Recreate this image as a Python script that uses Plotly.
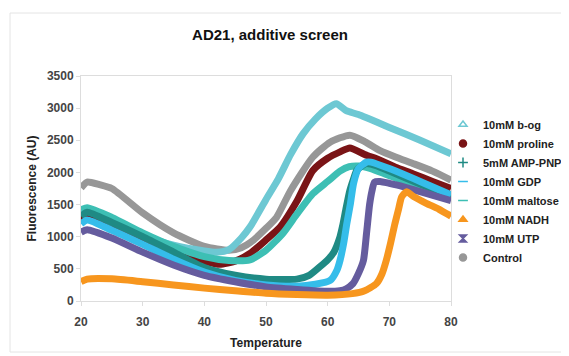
import plotly.graph_objects as go

names = ["10mM b-og", "10mM proline", "5mM AMP-PNP", "10mM GDP",
         "10mM maltose", "10mM NADH", "10mM UTP", "Control"]
colors = ["#6DC8D3", "#7A1416", "#1F8A84", "#35BDEA",
          "#3DBFB4", "#F7961E", "#655C9E", "#979797"]
symbols = ["triangle-up-open", "circle", "cross-thin", "line-ew",
           "line-ew", "triangle-up", "hourglass", "circle"]

bog_t = [20, 21, 25, 30, 35, 40, 42, 44, 46, 47.4, 50, 52, 54, 56, 58, 60, 61.4, 63, 65, 70, 75, 80]
bog_v = [1350, 1400, 1250, 1020, 870, 780, 760, 800, 980, 1150, 1580, 1900, 2280, 2600, 2830, 3000, 3070, 2960, 2900, 2700, 2500, 2290]

pro_t = [20, 21, 25, 30, 35, 40, 42.5, 45, 47.4, 50, 52.3, 55, 57.6, 60, 62, 63.6, 66, 68.5, 71, 73.8, 77, 80]
pro_v = [1250, 1330, 1150, 950, 760, 620, 570, 620, 740, 950, 1150, 1550, 2030, 2220, 2320, 2380, 2280, 2190, 2080, 1980, 1860, 1750]

amp_t = [20, 21, 25, 30, 35, 40, 45, 50, 55, 57, 58.7, 60, 61, 62, 62.5, 63, 63.6, 64.2, 64.7, 65.5, 66.3, 68, 70, 75, 80]
amp_v = [1320, 1380, 1220, 1000, 760, 520, 400, 340, 340, 400, 530, 640, 760, 1000, 1200, 1450, 1720, 1900, 2030, 2100, 2140, 2100, 2020, 1820, 1620]

gdp_t = [20, 21, 25, 30, 35, 40, 45, 50, 55, 58, 60.4, 61.5, 62, 62.6, 63.1, 63.7, 64.2, 65, 66.3, 67, 70, 75, 80]
gdp_v = [1200, 1260, 1100, 880, 650, 450, 320, 250, 230, 260, 320, 480, 630, 900, 1200, 1520, 1830, 2060, 2160, 2160, 2060, 1860, 1650]

mal_t = [20, 21, 25, 30, 35, 40, 44, 47.4, 50, 52.8, 55, 57.6, 60, 62, 63.5, 65, 67, 70, 75, 80]
mal_v = [1420, 1450, 1300, 1060, 850, 690, 630, 640, 790, 1060, 1350, 1670, 1860, 2020, 2090, 2100, 2060, 1950, 1780, 1590]

nadh_t = [20, 21, 25, 30, 35, 40, 45, 50, 55, 60, 64, 66, 67.9, 68.8, 69.5, 70.2, 70.9, 71.5, 72, 72.8, 74, 76, 78, 80]
nadh_v = [300, 340, 345, 300, 250, 200, 160, 120, 100, 90, 115, 160, 270, 420, 630, 900, 1200, 1430, 1620, 1700, 1620, 1520, 1430, 1320]

utp_t = [20, 21, 25, 30, 35, 40, 45, 50, 55, 60, 62, 63, 64.1, 65, 65.8, 66.3, 66.8, 67.2, 67.6, 68.5, 70, 72.2, 75, 80]
utp_v = [1070, 1110, 980, 760, 560, 400, 300, 220, 180, 150, 160, 190, 270, 430, 630, 1050, 1500, 1720, 1850, 1860, 1830, 1780, 1700, 1560]

ctl_t = [20, 21, 23, 25, 30, 35, 40, 44, 46, 48, 50, 51.7, 54, 57.6, 60.4, 63.6, 66, 68.5, 71, 73.8, 77, 80]
ctl_v = [1760, 1850, 1810, 1750, 1370, 1060, 850, 790, 830, 950, 1130, 1300, 1720, 2240, 2470, 2580, 2480, 2340, 2240, 2140, 2020, 1880]

series_t = [bog_t, pro_t, amp_t, gdp_t, mal_t, nadh_t, utp_t, ctl_t]
series_v = [bog_v, pro_v, amp_v, gdp_v, mal_v, nadh_v, utp_v, ctl_v]

x_ticks = [20, 30, 40, 50, 60, 70, 80]
y_ticks = [0, 500, 1000, 1500, 2000, 2500, 3000, 3500]

fig = go.Figure()

order = [7, 0, 1, 4, 2, 3, 6, 5]
for i in order:
    fig.add_trace(go.Scatter(
        x=series_t[i], y=series_v[i], mode="lines",
        line=dict(color=colors[i], width=7, shape="spline", smoothing=0.6),
        showlegend=False, hoverinfo="skip"))

for i in range(len(names)):
    fig.add_trace(go.Scatter(
        x=[None], y=[None], mode="markers", name=names[i],
        marker=dict(color=colors[i], symbol=symbols[i], size=7,
                    line=dict(color=colors[i], width=1.5))))

# The page body adds an 8px offset; layout numbers below compensate for it.
L, T, PW, PH = 73, 68, 370, 225
fig.update_layout(
    width=569, height=356,
    margin=dict(l=L, r=569 - L - PW, t=T, b=356 - T - PH, autoexpand=False),
    paper_bgcolor="white", plot_bgcolor="white",
    font=dict(family="Liberation Sans, Arial, sans-serif", color="#222"),
    title=dict(text="<b>AD21, additive screen</b>", x=(270 - 8) / 569, xanchor="center",
               y=1 - 27 / 356, yanchor="middle", font=dict(size=15, color="#111")),
    legend=dict(x=(435 - L) / PW, xanchor="left", y=(T + PH - 102) / PH, yanchor="top",
                font=dict(size=11, color="#222", weight="bold"), bgcolor="rgba(0,0,0,0)",
                itemwidth=30, tracegroupgap=0),
    xaxis=dict(range=[20, 80], tickvals=x_ticks, ticktext=[str(t) for t in x_ticks],
               showgrid=False, zeroline=False, showline=True, linecolor="#dddddd",
               mirror=True, ticks="outside", ticklen=4, tickcolor="#dddddd",
               ticklabelstandoff=6,
               tickfont=dict(size=12, color="#444", weight="bold"),
               title=dict(text="<b>Temperature</b>", font=dict(size=12, color="#222"), standoff=10)),
    yaxis=dict(range=[0, 3500], tickvals=y_ticks, ticktext=[str(t) for t in y_ticks],
               showgrid=False, zeroline=False, showline=True, linecolor="#dddddd",
               mirror=True, ticks="outside", ticklen=4, tickcolor="#dddddd",
               tickfont=dict(size=12, color="#444", weight="bold"),
               title=dict(text="<b>Fluorescence (AU)</b>", font=dict(size=12, color="#222"), standoff=7)),
)

fig.add_shape(type="rect", xref="paper", yref="paper",
              x0=(2 - L) / PW, x1=(600 - L) / PW,
              y0=(T + PH - 344) / PH, y1=(T + PH - 5) / PH,
              line=dict(color="#e4e4e4", width=1), fillcolor="rgba(0,0,0,0)", layer="below")

fig.write_html("out.html")
